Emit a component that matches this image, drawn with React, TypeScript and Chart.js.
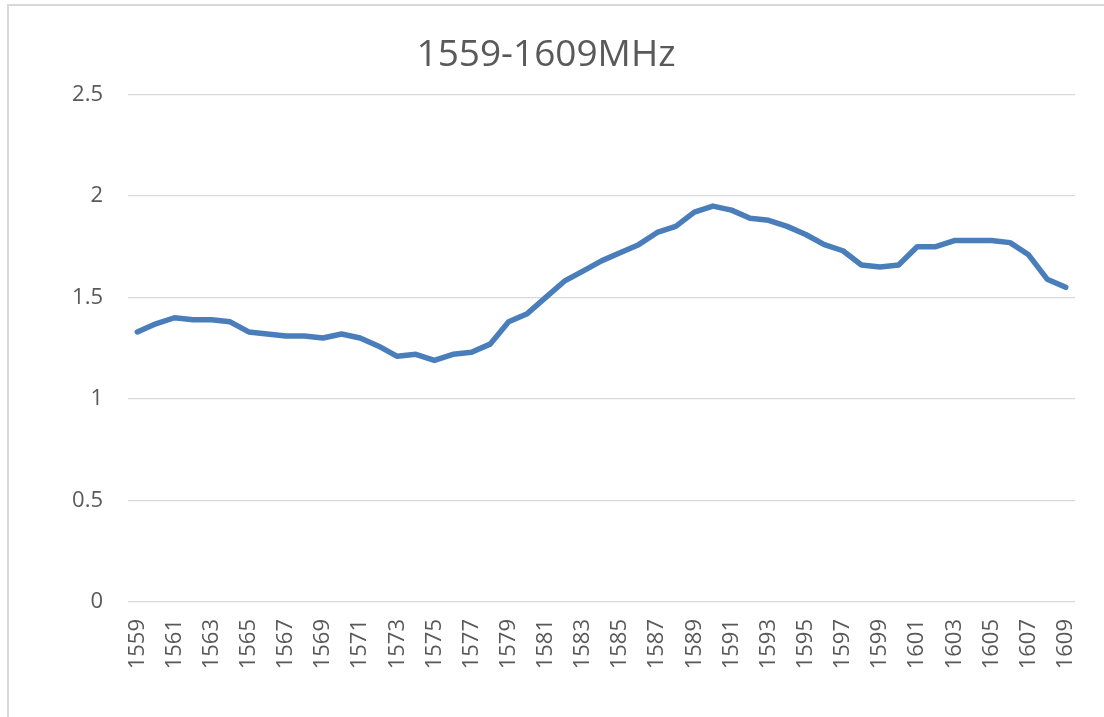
import React, { useEffect, useRef } from "react";
import { Chart, registerables } from "chart.js";

Chart.register(...registerables);

const TITLE = "1559-1609MHz";

const categories: string[] = [
  "1559", "1560", "1561", "1562", "1563", "1564", "1565", "1566", "1567", "1568",
  "1569", "1570", "1571", "1572", "1573", "1574", "1575", "1576", "1577", "1578",
  "1579", "1580", "1581", "1582", "1583", "1584", "1585", "1586", "1587", "1588",
  "1589", "1590", "1591", "1592", "1593", "1594", "1595", "1596", "1597", "1598",
  "1599", "1600", "1601", "1602", "1603", "1604", "1605", "1606", "1607", "1608",
  "1609",
];

const values: number[] = [
  1.33, 1.37, 1.40, 1.39, 1.39, 1.38, 1.33, 1.32, 1.31, 1.31,
  1.30, 1.32, 1.30, 1.26, 1.21, 1.22, 1.19, 1.22, 1.23, 1.27,
  1.38, 1.42, 1.50, 1.58, 1.63, 1.68, 1.72, 1.76, 1.82, 1.85,
  1.92, 1.95, 1.93, 1.89, 1.88, 1.85, 1.81, 1.76, 1.73, 1.66,
  1.65, 1.66, 1.75, 1.75, 1.78, 1.78, 1.78, 1.77, 1.71, 1.59,
  1.55,
];

const Y_MIN = 0;
const Y_MAX = 2.5;
const Y_STEP = 0.5;

export default function App() {
  const canvasRef = useRef<HTMLCanvasElement | null>(null);

  useEffect(() => {
    if (!canvasRef.current) return;
    const textColor = "#595959";
    const fontFamily = "'Open Sans', 'Liberation Sans', sans-serif";
    const chart = new Chart(canvasRef.current, {
      type: "line",
      data: {
        labels: categories,
        datasets: [
          {
            data: values,
            borderColor: "#4a7ebb",
            backgroundColor: "#4a7ebb",
            borderWidth: 5.5,
            pointRadius: 0,
            pointHoverRadius: 0,
            tension: 0,
            borderJoinStyle: "round",
            borderCapStyle: "round",
            fill: false,
          },
        ],
      },
      options: {
        responsive: false,
        animation: false,
        layout: { padding: { left: 17, right: 29, top: 0, bottom: 0 } },
        plugins: {
          legend: { display: false },
          tooltip: { enabled: false },
          title: {
            display: true,
            text: TITLE,
            color: textColor,
            font: { family: fontFamily, size: 37, weight: "normal", lineHeight: 1.2 },
            padding: { top: 33, bottom: 17 },
          },
        },
        scales: {
          x: {
            type: "category",
            offset: true,
            grid: { display: false, drawTicks: false },
            border: { display: false },
            ticks: {
              autoSkip: false,
              minRotation: 90,
              maxRotation: 90,
              padding: 17,
              color: textColor,
              font: { family: fontFamily, size: 22 },
              callback: (_v: any, i: number) => (i % 2 === 0 ? categories[i] : ""),
            },
            afterFit: (scale: any) => {
              scale.height = 115;
              scale.paddingLeft = 0;
              scale.paddingRight = 0;
            },
          },
          y: {
            min: Y_MIN,
            max: Y_MAX,
            grid: { color: "#d9d9d9", lineWidth: 1.3, drawTicks: false },
            border: { display: false },
            ticks: {
              stepSize: Y_STEP,
              padding: 25,
              color: textColor,
              font: { family: fontFamily, size: 22 },
              callback: (v: any) => String(Math.round(Number(v) * 10) / 10),
            },
            afterFit: (scale: any) => {
              scale.width = 111;
            },
          },
        },
      },
    });
    return () => chart.destroy();
  }, []);

  return (
    <div
      style={{
        position: "absolute",
        left: 0,
        top: 0,
        width: 1104,
        height: 717,
        overflow: "hidden",
        background: "#ffffff",
      }}
    >
      <div
        style={{
          position: "absolute",
          left: 7,
          top: 4,
          width: 1200,
          height: 800,
          borderLeft: "2px solid #d9d9d9",
          borderTop: "2px solid #d9d9d9",
        }}
      />
      <canvas
        ref={canvasRef}
        width={1104}
        height={717}
        style={{ position: "absolute", left: 0, top: 0, display: "block" }}
      />
    </div>
  );
}
